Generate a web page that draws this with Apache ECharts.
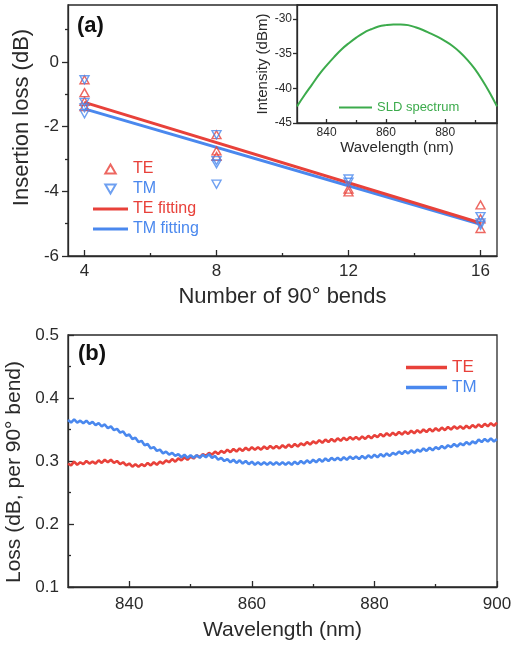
<!DOCTYPE html>
<html><head><meta charset="utf-8">
<script src="https://cdn.jsdelivr.net/npm/echarts@6/dist/echarts.min.js"></script>
<style>html,body{margin:0;padding:0;background:#fff}#c{width:512px;height:645px}</style>
</head><body><div id="c"></div>
<script>
// ---------- Panel (a) data ----------
const teBendX = [4, 4, 4, 4, 8, 8, 8, 12, 12, 16, 16, 16];
const teLoss  = [-0.55, -0.95, -1.22, -1.38, -2.25, -2.75, -2.92, -3.93, -4.02, -4.42, -4.85, -5.15];
const tmBendX = [4, 4, 4, 4, 8, 8, 8, 8, 12, 12, 16, 16, 16];
const tmLoss  = [-0.55, -1.25, -1.42, -1.6, -2.25, -3.05, -3.15, -3.78, -3.62, -3.72, -4.78, -4.98, -5.05];
const fitX  = [4, 16];
const teFit = [-1.25, -4.98];
const tmFit = [-1.45, -5.02];
const aXTicks = [4, 8, 12, 16];
const aXMinor = [6, 10, 14];
const aYTicks = [-6, -4, -2, 0];
const aYMinor = [-5, -3, -1, 1];

// ---------- Inset data ----------
const specWl  = [830, 832.5, 835, 837.5, 840, 842.5, 845, 847.5, 850, 852.5, 855, 857.5, 860, 862.5, 865, 867.5, 870, 872.5, 875, 877.5, 880, 882.5, 885, 887.5, 890, 892.5, 895, 897.5];
const specInt = [-42.6, -41.0, -39.5, -38.0, -36.7, -35.5, -34.4, -33.5, -32.7, -32.0, -31.5, -31.1, -30.9, -30.8, -30.8, -30.9, -31.2, -31.6, -32.1, -32.6, -33.2, -33.9, -34.8, -35.9, -37.2, -38.8, -40.6, -42.6];
const inXTicks = [840, 860, 880];
const inXMinor = [850, 870, 890];
const inYTicks = [-45, -40, -35, -30];

// ---------- Panel (b) data ----------
const lossWl = [830,830.5,831,831.5,832,832.5,833,833.5,834,834.5,835,835.5,836,836.5,837,837.5,838,838.5,839,839.5,
840,840.5,841,841.5,842,842.5,843,843.5,844,844.5,845,845.5,846,846.5,847,847.5,848,848.5,849,849.5,
850,850.5,851,851.5,852,852.5,853,853.5,854,854.5,855,855.5,856,856.5,857,857.5,858,858.5,859,859.5,
860,860.5,861,861.5,862,862.5,863,863.5,864,864.5,865,865.5,866,866.5,867,867.5,868,868.5,869,869.5,
870,870.5,871,871.5,872,872.5,873,873.5,874,874.5,875,875.5,876,876.5,877,877.5,878,878.5,879,879.5,
880,880.5,881,881.5,882,882.5,883,883.5,884,884.5,885,885.5,886,886.5,887,887.5,888,888.5,889,889.5,
890,890.5,891,891.5,892,892.5,893,893.5,894,894.5,895,895.5,896,896.5,897,897.5,898,898.5,899,899.5,900];
const lossTE = [.296,.293,.299,.294,.298,.295,.300,.296,.299,.296,.301,.297,.302,.298,.302,.297,.300,.295,.298,.293,
.296,.291,.295,.291,.295,.292,.297,.293,.298,.294,.299,.296,.301,.298,.303,.299,.304,.301,.306,.302,
.307,.304,.309,.306,.311,.308,.313,.310,.315,.311,.316,.313,.318,.314,.319,.315,.320,.316,.321,.317,
.322,.318,.322,.318,.323,.319,.324,.320,.324,.320,.325,.321,.326,.322,.327,.323,.328,.325,.330,.326,
.331,.328,.333,.329,.334,.330,.335,.331,.336,.332,.337,.333,.338,.334,.338,.334,.339,.335,.340,.336,
.341,.338,.343,.339,.344,.340,.345,.341,.346,.342,.347,.343,.348,.344,.349,.345,.350,.346,.351,.347,
.352,.348,.353,.349,.354,.350,.355,.351,.355,.351,.356,.352,.357,.353,.358,.354,.359,.355,.360,.356,.361];
const lossTM = [.365,.361,.366,.361,.364,.360,.364,.359,.362,.357,.360,.355,.358,.352,.355,.349,.351,.345,.347,.340,
.342,.335,.337,.330,.332,.325,.327,.320,.322,.316,.318,.312,.315,.310,.313,.308,.311,.306,.310,.305,
.309,.305,.309,.305,.310,.306,.311,.305,.308,.302,.305,.300,.303,.298,.302,.297,.301,.296,.300,.295,
.299,.294,.298,.294,.298,.294,.298,.294,.298,.294,.298,.294,.298,.294,.299,.295,.300,.296,.301,.297,
.302,.298,.303,.299,.304,.300,.305,.301,.305,.301,.306,.302,.307,.303,.307,.303,.308,.304,.309,.305,
.310,.306,.311,.307,.312,.308,.313,.310,.315,.311,.316,.312,.317,.313,.318,.315,.320,.316,.321,.317,
.322,.319,.324,.320,.325,.322,.327,.323,.328,.325,.330,.326,.331,.328,.334,.330,.335,.331,.336,.331,.335];
const bXTicks = [840, 860, 880, 900];
const bXMinor = [850, 870, 890];
const bYTicks = [0.1, 0.2, 0.3, 0.4, 0.5];
const bYMinor = [0.15, 0.25, 0.35, 0.45];

// ---------- styling ----------
const RED = '#e8413a', BLUE = '#4a88ee', GREEN = '#3cab4c', INK = '#2a2a2a';
const FONT = 'Liberation Sans';
const LINE_ICON = 'path://M0,0L40,0L40,3.2L0,3.2Z';
const pair = (xs, ys) => xs.map((x, i) => [x, ys[i]]);
const lineSty = { color: INK, width: 1.3 };

function mainAxis(o) {
  return Object.assign({
    type: 'value', splitLine: { show: false },
    axisLine: { show: true, onZero: false, lineStyle: lineSty },
    nameTextStyle: { fontFamily: FONT, fontSize: 22, color: INK },
  }, o);
}
function minorAxis(o) {
  return Object.assign({
    type: 'value', splitLine: { show: false },
    axisLine: { show: false, onZero: false }, axisLabel: { show: false },
  }, o);
}
const lbl = (vals, size, margin) => ({ customValues: vals, fontFamily: FONT, fontSize: size, color: INK, margin: margin });
const tk = (vals, inside, len) => ({ show: true, customValues: vals, inside: inside, length: len, lineStyle: lineSty });
const gridBase = { show: true, borderColor: INK, borderWidth: 1.3, backgroundColor: 'transparent',
  containLabel: false, outerBoundsMode: 'none' };

const chart = echarts.init(document.getElementById('c'), null, { renderer: 'canvas' });
chart.setOption({
  animation: false,
  backgroundColor: '#fff',
  textStyle: { fontFamily: FONT },
  grid: [
    Object.assign({ left: 68, top: 5, width: 429, height: 251 }, gridBase),
    Object.assign({ left: 297, top: 5, width: 200, height: 118 }, gridBase),
    Object.assign({ left: 68, top: 335, width: 429, height: 252 }, gridBase)
  ],
  xAxis: [
    mainAxis({ gridIndex: 0, position: 'bottom', min: 3.5, max: 16.5,
      axisTick: tk(aXTicks, true, 6), axisLabel: lbl(aXTicks, 17, 7),
      name: 'Number of 90° bends', nameLocation: 'middle', nameGap: 30 }),
    minorAxis({ gridIndex: 0, position: 'bottom', min: 3.5, max: 16.5, axisTick: tk(aXMinor, true, 3) }),
    mainAxis({ gridIndex: 1, position: 'bottom', min: 830, max: 897.5,
      axisTick: tk(inXTicks, true, 4), axisLabel: lbl(inXTicks, 12, 4),
      name: 'Wavelength (nm)', nameLocation: 'middle', nameGap: 16,
      nameTextStyle: { fontFamily: FONT, fontSize: 15, color: INK } }),
    minorAxis({ gridIndex: 1, position: 'bottom', min: 830, max: 897.5, axisTick: tk(inXMinor, true, 3) }),
    mainAxis({ gridIndex: 2, position: 'bottom', min: 830, max: 900,
      axisTick: tk(bXTicks, true, 6), axisLabel: lbl(bXTicks, 17, 9),
      name: 'Wavelength (nm)', nameLocation: 'middle', nameGap: 33,
      nameTextStyle: { fontFamily: FONT, fontSize: 21, color: INK } }),
    minorAxis({ gridIndex: 2, position: 'bottom', min: 830, max: 900, axisTick: tk(bXMinor, true, 3) })
  ],
  yAxis: [
    mainAxis({ gridIndex: 0, position: 'left', min: -6, max: 1.76,
      axisTick: tk(aYTicks, false, 6), axisLabel: lbl(aYTicks, 17, 9),
      name: 'Insertion loss (dB)', nameLocation: 'middle', nameGap: 32,
      nameTextStyle: { fontFamily: FONT, fontSize: 22, color: INK, padding: [0, 0, 0, 26] } }),
    minorAxis({ gridIndex: 0, position: 'left', min: -6, max: 1.76, axisTick: tk(aYMinor, false, 3) }),
    mainAxis({ gridIndex: 1, position: 'left', min: -45, max: -28,
      axisTick: tk(inYTicks, false, 4), axisLabel: lbl(inYTicks, 12, 5),
      name: 'Intensity (dBm)', nameLocation: 'middle', nameGap: 27,
      nameTextStyle: { fontFamily: FONT, fontSize: 15, color: INK } }),
    minorAxis({ gridIndex: 1, position: 'left', min: -45, max: -28, axisTick: { show: false } }),
    mainAxis({ gridIndex: 2, position: 'left', min: 0.1, max: 0.5,
      axisTick: tk(bYTicks, true, 6), axisLabel: lbl(bYTicks, 17, 9),
      name: 'Loss (dB, per 90° bend)', nameLocation: 'middle', nameGap: 41,
      nameTextStyle: { fontFamily: FONT, fontSize: 21, color: INK, padding: [0, 22, 0, 0] } }),
    minorAxis({ gridIndex: 2, position: 'left', min: 0.1, max: 0.5, axisTick: tk(bYMinor, true, 3) })
  ],
  legend: [
    { left: 88, top: 156, orient: 'vertical', itemWidth: 35, itemHeight: 9, itemGap: 4,
      textStyle: { fontFamily: FONT, fontSize: 16 },
      data: [
        { name: 'TE', textStyle: { color: RED } },
        { name: 'TM', textStyle: { color: BLUE } },
        { name: 'TE fitting', icon: LINE_ICON, textStyle: { color: RED } },
        { name: 'TM fitting', icon: LINE_ICON, textStyle: { color: BLUE } }
      ] },
    { left: 334, top: 96, itemWidth: 33, itemHeight: 9, itemGap: 6,
      textStyle: { fontFamily: FONT, fontSize: 13 },
      data: [{ name: 'SLD spectrum', icon: 'path://M0,0L40,0L40,2.6L0,2.6Z', textStyle: { color: GREEN } }] },
    { left: 401, top: 354, orient: 'vertical', itemWidth: 41, itemHeight: 9, itemGap: 3,
      textStyle: { fontFamily: FONT, fontSize: 17 },
      data: [{ name: 'TE ', icon: LINE_ICON, textStyle: { color: RED } }, { name: 'TM ', icon: LINE_ICON, textStyle: { color: BLUE } }] }
  ],
  graphic: [
    { type: 'text', left: 77, top: 15, style: { text: '(a)', font: 'bold 22px "Liberation Sans"', fill: '#111' } },
    { type: 'text', left: 78, top: 343, style: { text: '(b)', font: 'bold 22px "Liberation Sans"', fill: '#111' } }
  ],
  series: [
    { name: 'TE fitting', type: 'line', xAxisIndex: 0, yAxisIndex: 0, data: pair(fitX, teFit), symbol: 'none',
      lineStyle: { color: RED, width: 3 }, itemStyle: { color: RED }, z: 3 },
    { name: 'TM fitting', type: 'line', xAxisIndex: 0, yAxisIndex: 0, data: pair(fitX, tmFit), symbol: 'none',
      lineStyle: { color: BLUE, width: 3 }, itemStyle: { color: BLUE }, z: 2 },
    { name: 'TE', type: 'scatter', xAxisIndex: 0, yAxisIndex: 0, data: pair(teBendX, teLoss),
      symbol: 'path://M5,0L10,8.66L0,8.66Z', symbolSize: [9, 8],
      itemStyle: { color: 'rgba(255,255,255,0)', borderColor: RED, borderWidth: 1.4 }, z: 4 },
    { name: 'TM', type: 'scatter', xAxisIndex: 0, yAxisIndex: 0, data: pair(tmBendX, tmLoss),
      symbol: 'path://M0,0L10,0L5,8.66Z', symbolSize: [9, 8],
      itemStyle: { color: 'rgba(255,255,255,0)', borderColor: BLUE, borderWidth: 1.4 }, z: 4 },
    { name: 'SLD spectrum', type: 'line', xAxisIndex: 2, yAxisIndex: 2, data: pair(specWl, specInt),
      symbol: 'none', smooth: 0.4, lineStyle: { color: GREEN, width: 2 }, itemStyle: { color: GREEN } },
    { name: 'TE ', type: 'line', xAxisIndex: 4, yAxisIndex: 4, data: pair(lossWl, lossTE), symbol: 'none',
      lineStyle: { color: RED, width: 2.6 }, itemStyle: { color: RED } },
    { name: 'TM ', type: 'line', xAxisIndex: 4, yAxisIndex: 4, data: pair(lossWl, lossTM), symbol: 'none',
      lineStyle: { color: BLUE, width: 2.6 }, itemStyle: { color: BLUE } }
  ]
});
</script></body></html>
